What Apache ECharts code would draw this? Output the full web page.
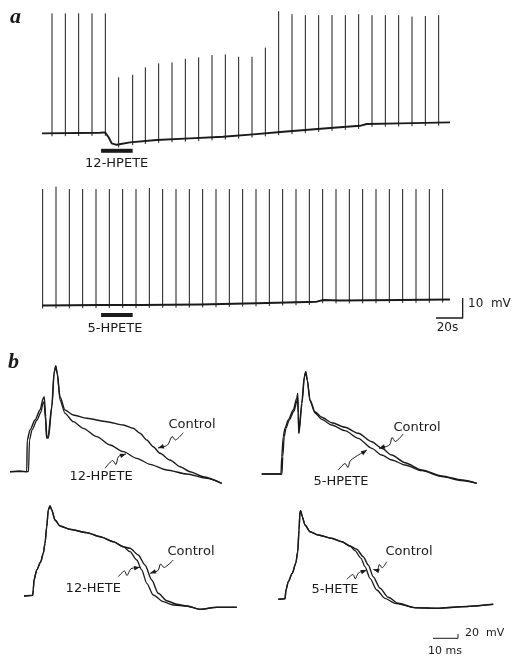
<!DOCTYPE html>
<html><head><meta charset="utf-8">
<script src="https://cdn.jsdelivr.net/npm/echarts@6/dist/echarts.min.js"></script>
<style>html,body{margin:0;padding:0;background:#fff}#c{width:514px;height:656px}</style>
</head><body><div id="c"></div>
<script>
// ---------- Panel a : time (s) vs membrane potential (mV) ----------
const aTopBaseline = [[1.5,-42.7],[45,-42.4],[48.8,-42.2],[51.2,-44.4],[53.8,-47.7],[57.5,-48.4],[67.5,-47.2],[87.5,-46],[112.5,-45.2],[137.3,-44.4],[159.8,-43.2],[182.5,-41.9],[220,-39.9],[240,-38.9],[245,-38],[270,-37.7],[307.5,-37.2]];
const aTopSpikeTimes = [9,19,29,39,49,59,69.5,79,89,99,109,119,129,139,149,159,169,179,189,199,209,219,229,239,249,259,269,279,289,299];
const aTopSpikePeaks = [17.3,17.3,17.3,17.3,17.3,-14.7,-13.4,-9.7,-7.7,-7.2,-5.4,-4.7,-3.5,-3.2,-4.4,-4.4,0.2,18.4,16.9,16.4,16.4,16.5,16.4,16.9,16.4,16.4,16.4,15.7,16,16.4];
const aTopDrugBar = [[45.8,-51.4],[69.5,-51.4]];

const aBotBaseline = [[1.5,-41.25],[45,-41],[75,-41],[120,-40.75],[162.5,-40.15],[207.5,-39.35],[212.5,-38.5],[225,-38.75],[270,-38.5],[307.5,-38.25]];
const aBotSpikeTimes = [2,12,22,32,42,52,62,72,82,92,102,112,122,132,142,152,162,172,182,192,202,212,222,232,242,252,262,272,282,292,302];
const aBotSpikePeaks = [17,18.2,17,17,17,17,17,17,17.5,17,17,17,17,17,17,17,17,17,17,17,17,17,17,17,17,17,17,17,17,17,17];
const aBotDrugBar = [[45.8,-46],[69.5,-46]];
const aScaleBar = [[297,-47.5],[317,-47.5],[317,-37.5]];

// ---------- Panel b : time (ms) vs membrane potential (mV) ----------
const b1Control = [[0.8,-81.7],[4.8,-81],[7.5,-81.7],[7.7,-50],[8.8,-40],[10.8,-30],[12.8,-20],[14.1,-8.3],[14.5,-6.7],[15.1,-26.7],[15.5,-46.7],[16,-47],[17.5,-16.7],[18.4,16.7],[19.1,24],[19.7,16.7],[20.8,-6.7],[22.8,-20],[26.1,-25],[31.5,-28.3],[39.5,-31.7],[46.1,-35],[50.1,-38.3],[52.8,-43.3],[55.5,-50],[58.1,-56.7],[60.8,-63.3],[64.8,-70],[68.8,-76.7],[72.8,-81.7],[78.1,-86.7],[85.5,-93.3]];
const b1Hpete = [[0.8,-81.7],[8.2,-81.7],[8.6,-50],[9.6,-40],[11.6,-30],[13.2,-22],[14,-13],[14.4,-12],[15,-30],[15.4,-48],[16.2,-48],[17.6,-16],[18.5,18],[19.1,24],[19.7,16],[20.8,-10],[22.8,-23.3],[26.1,-31.7],[30.1,-38.3],[35.5,-46.7],[40.8,-55],[46.1,-61.7],[51.5,-68.3],[56.8,-74.3],[63.5,-80],[71.5,-84],[79.5,-88.3],[85.5,-93.3]];
const b2Control = [[1.5,-84],[9.2,-84],[9.5,-66.7],[10.1,-46.7],[10.8,-38.3],[12.1,-30],[14.1,-20],[15.5,-8.3],[15.9,-3.3],[16.1,-23.3],[16.3,-43.3],[17.5,-13.3],[18.5,13.3],[19.1,18.3],[19.7,10],[20.8,-10],[22.8,-21.7],[25.5,-27.3],[29.5,-32.7],[34.8,-37.3],[40.1,-43.3],[45.5,-51.7],[49.5,-58.3],[53.5,-65],[58.8,-72.7],[65.5,-80],[73.5,-86],[81.5,-90],[87.5,-93.3]];
const b2Hpete = [[1.5,-84],[9.6,-84],[9.9,-66.7],[10.5,-46.7],[11.2,-38.3],[12.5,-30],[14.4,-21],[15.6,-11],[15.9,-8],[16.1,-26],[16.4,-43.3],[17.6,-13.3],[18.6,13.3],[19.1,18.3],[19.7,10],[20.8,-11],[22.8,-23],[25.5,-29.3],[29.5,-35],[34.8,-40.7],[40.1,-48.3],[45.5,-58.3],[49.5,-65],[53.5,-70],[58.8,-75],[65.5,-80.7],[73.5,-86.5],[81.5,-90.5],[87.5,-93.3]];
const b3Control = [[6.4,-80],[9.9,-79.3],[10.1,-74],[10.4,-64],[11.5,-54],[13.1,-45.7],[14.1,-37.3],[14.8,-27.3],[15.5,-10.7],[16.1,6],[16.8,10],[17.5,6],[18.8,-4],[20.8,-10],[24.8,-13.3],[31.5,-16.7],[36.8,-20.7],[42.1,-25.7],[46.1,-30.7],[48.8,-32.3],[52.1,-39],[54.8,-49],[57.5,-64],[60.1,-77.3],[63.5,-84.7],[67.5,-88.3],[71.5,-90],[76.8,-93.3],[83.5,-91.3],[91.5,-91.3]];
const b3Hete = [[6.4,-80],[9.9,-79.3],[10.1,-74],[10.4,-64],[11.5,-54],[13.1,-45.7],[14.1,-37.3],[14.8,-27.3],[15.5,-10.7],[16.1,6],[16.8,10],[17.5,6],[18.8,-4],[20.8,-10],[24.8,-13.3],[31.5,-16.7],[36.8,-20.7],[42.1,-25.7],[46.1,-30.7],[48.8,-35.7],[51.5,-44],[53.5,-54],[55.5,-67.3],[58.1,-79],[62.1,-85.7],[66.1,-89],[71.5,-90],[76.8,-93.3],[83.5,-91.3],[91.5,-91.3]];
const b4Control = [[8.1,-83.3],[10.8,-82.7],[11.2,-74],[12.1,-65.7],[13.7,-57.3],[15.1,-47.3],[15.9,-35.7],[16.4,-14],[16.8,4.3],[17.1,5.3],[17.7,-0.7],[18.8,-9],[20.8,-15.7],[24.1,-19],[29.5,-22.3],[33.5,-25.7],[36.8,-30],[39.5,-33.3],[42.1,-40.7],[44.1,-49],[46.1,-60.7],[48.8,-72.3],[52.1,-81.3],[56.1,-87.3],[62.8,-91.7],[72.1,-92.3],[81.5,-90.7],[94.1,-88.3]];
const b4Hete = [[8.1,-83.3],[10.8,-82.7],[11.2,-74],[12.1,-65.7],[13.7,-57.3],[15.1,-47.3],[15.9,-35.7],[16.4,-14],[16.8,4.3],[17.1,5.3],[17.7,-0.7],[18.8,-9],[20.8,-15.7],[24.1,-19],[29.5,-22.3],[33.5,-25.7],[36.8,-30],[38.8,-34.7],[41.2,-42.3],[42.8,-50.7],[44.8,-62.3],[47.5,-74],[50.8,-82.3],[54.8,-87.3],[62.8,-91.7],[72.1,-92.3],[81.5,-90.7],[94.1,-88.3]];
const bScaleBar = [[70,-122.3],[80,-122.3],[80,-118]];

// label pointer arrows (zig-zag leaders), in each panel's units
const b1Arrows = [[[70.1,-42.7],[67,-50],[65.6,-46.5],[63.8,-55],[60,-58]], [[38.8,-78.3],[41.8,-70.5],[43.2,-74.5],[44.2,-66.5],[47.2,-64]]];
const b2Arrows = [[[58.1,-44],[55,-51.5],[53.6,-47.5],[52.6,-55],[48.4,-58.3]], [[32.1,-80],[34.8,-73.5],[36,-77.5],[37,-70.5],[43.6,-60]]];
const b3Arrows = [[[66.1,-44],[62.5,-51.5],[61,-48],[60,-54.5],[56.8,-57.3]], [[44.1,-60.7],[46.6,-55],[47.6,-59.5],[49.2,-52.8],[52.8,-51.3]]];
const b4Arrows = [[[51.5,-45.7],[49.7,-51.8],[48.5,-48.5],[47.8,-54.5],[46.1,-53.3]], [[35.5,-63.3],[38,-58.5],[38.9,-62.8],[40.2,-57],[43.5,-54]]];

const INK = '#1a1a1a';
const chart = echarts.init(document.getElementById('c'), null, {renderer:'canvas'});

const gridDefs = [
  {left:40, top:8, width:440, height:160, x:[0,330], y:[-60,20]},
  {left:40, top:183, width:440, height:160, x:[0,330], y:[-60,20]},
  {left:8, top:350, width:240, height:140, x:[0,96], y:[-100,40]},
  {left:258, top:350, width:250, height:140, x:[0,100], y:[-100,40]},
  {left:8, top:476, width:240, height:170, x:[0,96], y:[-130,40]},
  {left:258, top:476, width:250, height:170, x:[0,100], y:[-130,40]}
];

function interp(arr, t){
  for (let i=0;i<arr.length-1;i++){
    if (t>=arr[i][0] && t<=arr[i+1][0]){
      const f=(t-arr[i][0])/(arr[i+1][0]-arr[i][0]);
      return arr[i][1]+f*(arr[i+1][1]-arr[i][1]);
    }
  }
  return t<arr[0][0] ? arr[0][1] : arr[arr.length-1][1];
}
function trace(data, gi, width, smooth){
  return {type:'line', xAxisIndex:gi, yAxisIndex:gi, data, symbol:'none', showSymbol:false,
    smooth: smooth || false, smoothMonotone: smooth ? 'x' : undefined,
    lineStyle:{color:INK, width:width, cap:'butt', join:'round'}, silent:true, clip:false, z:3};
}
function spikes(times, peaks, base, gi){
  return {type:'custom', xAxisIndex:gi, yAxisIndex:gi, clip:false, silent:true, z:2,
    data: times.map((t,i)=>[t, peaks[i]]),
    renderItem:(p, api)=>{
      const t=api.value(0), pk=api.value(1);
      const foot=interp(base, t)-1.5;
      const a=api.coord([t,foot]), b=api.coord([t,pk]);
      return {type:'line', shape:{x1:a[0],y1:a[1],x2:b[0],y2:b[1]}, style:{stroke:INK, lineWidth:1}};
    }};
}
function arrows(list, gi){
  return {type:'custom', xAxisIndex:gi, yAxisIndex:gi, clip:false, silent:true, z:4,
    data: list.map((a,i)=>[a[a.length-1][0], a[a.length-1][1], i]),
    renderItem:(p, api)=>{
      const pts=list[p.dataIndex].map(q=>api.coord(q));
      const n=pts.length, e=pts[n-1], s=pts[n-2];
      const ang=Math.atan2(e[1]-s[1], e[0]-s[0]);
      const L=6, W=2.3;
      const c=Math.cos(ang), sn=Math.sin(ang);
      const p1=[e[0]-L*c+W*sn, e[1]-L*sn-W*c];
      const p2=[e[0]-L*c-W*sn, e[1]-L*sn+W*c];
      return {type:'group', children:[
        {type:'polyline', shape:{points:pts, smooth:0.3}, style:{stroke:INK, lineWidth:1, fill:null}},
        {type:'polygon', shape:{points:[e,p1,p2]}, style:{fill:INK}}
      ]};
    }};
}

const sans = '"DejaVu Sans", sans-serif';
function txt(text, x, y, size, align, font){
  return {type:'text', x:x, y:y, silent:true, z:10,
    style:{text:text, font: font || (size+'px '+sans), fill:INK, textAlign:align, textVerticalAlign:'middle'}};
}

const option = {
  animation:false,
  backgroundColor:'#ffffff',
  grid: gridDefs.map(g=>({left:g.left, top:g.top, width:g.width, height:g.height, containLabel:false})),
  xAxis: gridDefs.map((g,i)=>({type:'value', gridIndex:i, min:g.x[0], max:g.x[1], show:false})),
  yAxis: gridDefs.map((g,i)=>({type:'value', gridIndex:i, min:g.y[0], max:g.y[1], show:false})),
  series: [
    trace(aTopBaseline, 0, 1.9),
    spikes(aTopSpikeTimes, aTopSpikePeaks, aTopBaseline, 0),
    trace(aTopDrugBar, 0, 4),
    trace(aBotBaseline, 1, 1.9),
    spikes(aBotSpikeTimes, aBotSpikePeaks, aBotBaseline, 1),
    trace(aBotDrugBar, 1, 4),
    trace(aScaleBar, 1, 1.3),
    trace(b1Control, 2, 1.4, 0.25), trace(b1Hpete, 2, 1.3, 0.25), arrows(b1Arrows, 2),
    trace(b2Control, 3, 1.4, 0.25), trace(b2Hpete, 3, 1.3, 0.25), arrows(b2Arrows, 3),
    trace(b3Control, 4, 1.4, 0.25), trace(b3Hete, 4, 1.3, 0.25), arrows(b3Arrows, 4),
    trace(b4Control, 5, 1.4, 0.25), trace(b4Hete, 5, 1.3, 0.25), arrows(b4Arrows, 5),
    trace(bScaleBar, 5, 1)
  ],
  graphic: { elements: [
    txt('a', 10, 17, 22, 'left', 'italic bold 22px "Liberation Serif", serif'),
    txt('b', 8, 362, 22, 'left', 'italic bold 22px "Liberation Serif", serif'),
    txt('12-HPETE', 116.7, 164, 13, 'center'),
    txt('5-HPETE', 115, 328.5, 13, 'center'),
    txt('10  mV', 468, 304, 12, 'left'),
    txt('20s', 436.7, 328, 12, 'left'),
    txt('Control', 192, 425, 13, 'center'),
    txt('12-HPETE', 101, 477, 13, 'center'),
    txt('Control', 417, 427.5, 13, 'center'),
    txt('5-HPETE', 341, 481.5, 13, 'center'),
    txt('Control', 191, 551.5, 13, 'center'),
    txt('12-HETE', 93.3, 589, 13, 'center'),
    txt('Control', 409, 551.5, 13, 'center'),
    txt('5-HETE', 335, 590, 13, 'center'),
    txt('20  mV', 465, 633.5, 11, 'left'),
    txt('10 ms', 445, 651, 11, 'center')
  ]}
};
chart.setOption(option);
</script></body></html>
